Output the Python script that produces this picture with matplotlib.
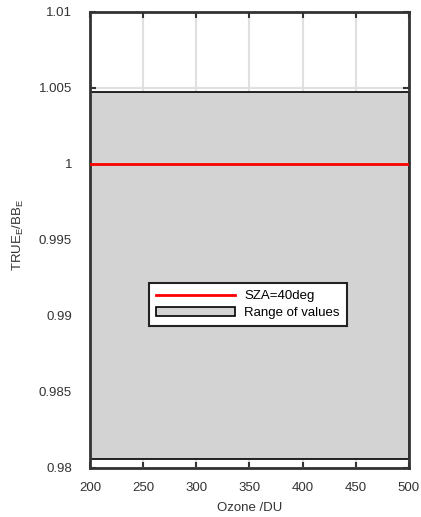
import matplotlib
matplotlib.use("Agg")
import matplotlib.pyplot as plt
import numpy as np

ozone = [200, 250, 300, 350, 400, 450, 500]
ratio_sza40 = [1.0, 1.0, 1.0, 1.0, 1.0, 1.0, 1.0]
range_low = [0.98059, 0.98059, 0.98059, 0.98059, 0.98059, 0.98059, 0.98059]
range_high = [1.00474, 1.00474, 1.00474, 1.00474, 1.00474, 1.00474, 1.00474]

xticks = [200, 250, 300, 350, 400, 450, 500]
yticks = [0.98, 0.985, 0.99, 0.995, 1.0, 1.005, 1.01]
ytick_labels = ["0.98", "0.985", "0.99", "0.995", "1", "1.005", "1.01"]

plt.rcParams['font.family'] = ['Liberation Sans', 'DejaVu Sans']
fig = plt.figure(figsize=(4.21, 5.17), dpi=100)
ax = fig.add_axes([0.214, 0.095, 0.757, 0.882])

fill = ax.fill_between(ozone, range_low, range_high, facecolor='#d3d3d3',
                       edgecolor='black', linewidth=1.2, zorder=2, label='Range of values')
line, = ax.plot(ozone, ratio_sza40, color='#ff0000', linewidth=2, zorder=3, label='SZA=40deg')

ax.set_xlim(200, 500)
ax.set_ylim(0.98, 1.01)
ax.set_xticks(xticks)
ax.set_yticks(yticks)
ax.set_yticklabels(ytick_labels)
ax.grid(True, color='#e0e0e0', linewidth=1.5, zorder=1)
ax.set_axisbelow(True)
ax.tick_params(direction='in', length=4, width=1.5, top=True, right=True,
               labelsize=9.5, colors='#333333', labelcolor='#333333')
ax.tick_params(axis='y', pad=13)
ax.tick_params(axis='x', pad=10)
for s in ax.spines.values():
    s.set_linewidth(2)
    s.set_color('#333333')

ax.set_xlabel('Ozone /DU', fontsize=9.5, color='#333333', labelpad=6)
ax.set_ylabel(r'TRUE$_\mathregular{E}$/BB$_\mathregular{E}$', fontsize=9.5, color='#333333')
ax.yaxis.set_label_coords(-0.2, 0.51)

leg = ax.legend(handles=[line, fill], loc='center', bbox_to_anchor=(0.495, 0.358),
                fontsize=9.5, frameon=True, fancybox=False, edgecolor='#222222',
                framealpha=1, borderpad=0.55, handlelength=6.0, handletextpad=0.7,
                labelspacing=0.35, borderaxespad=0)
leg.get_frame().set_linewidth(1.5)

fig.savefig('out.png', dpi=100)
